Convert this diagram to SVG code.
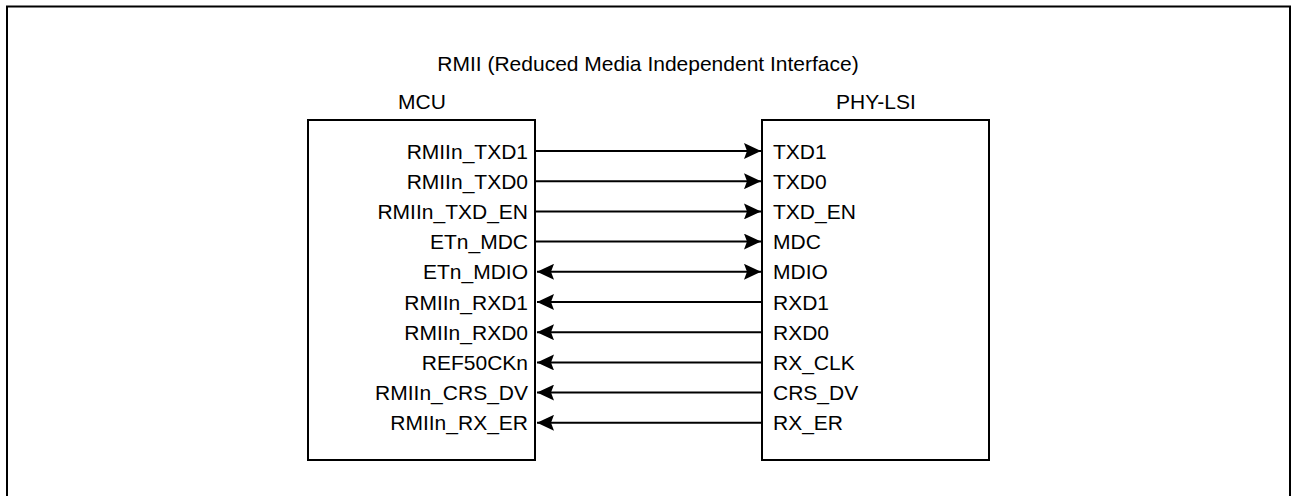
<svg xmlns="http://www.w3.org/2000/svg" width="1291" height="496" viewBox="0 0 1291 496">
<defs>
<style>
text{font-family:"Liberation Sans",Arial,sans-serif;font-size:21px;fill:#000}
.l{text-anchor:end}
.c{text-anchor:middle}
.box{fill:#fff;stroke:#000;stroke-width:2}
.w{stroke:#000;stroke-width:2;fill:none}
</style>
<marker id="ah" viewBox="0 0 17 16" refX="17" refY="8" markerWidth="17" markerHeight="16" markerUnits="userSpaceOnUse" orient="auto-start-reverse">
<path d="M0,0 L17,8 L0,16 L3,8 Z" fill="#000"/>
</marker>
</defs>
<rect width="1291" height="496" fill="#fff"/>
<rect x="7" y="6.5" width="1283" height="500" fill="none" stroke="#000" stroke-width="2"/>
<text class="c" x="648" y="71">RMII (Reduced Media Independent Interface)</text>
<g id="mcu">
<rect class="box" x="308" y="120" width="227" height="340"/>
<text class="c" x="422" y="109">MCU</text>
<text class="l" x="528" y="158.5">RMIIn_TXD1</text>
<text class="l" x="528" y="188.7">RMIIn_TXD0</text>
<text class="l" x="528" y="218.9">RMIIn_TXD_EN</text>
<text class="l" x="528" y="249.1">ETn_MDC</text>
<text class="l" x="528" y="279.3">ETn_MDIO</text>
<text class="l" x="528" y="309.5">RMIIn_RXD1</text>
<text class="l" x="528" y="339.7">RMIIn_RXD0</text>
<text class="l" x="528" y="369.9">REF50CKn</text>
<text class="l" x="528" y="400.1">RMIIn_CRS_DV</text>
<text class="l" x="528" y="430.3">RMIIn_RX_ER</text>
</g>
<g id="phy">
<rect class="box" x="762" y="120" width="227" height="340"/>
<text class="c" x="876" y="109">PHY-LSI</text>
<text x="773" y="158.5">TXD1</text>
<text x="773" y="188.7">TXD0</text>
<text x="773" y="218.9">TXD_EN</text>
<text x="773" y="249.1">MDC</text>
<text x="773" y="279.3">MDIO</text>
<text x="773" y="309.5">RXD1</text>
<text x="773" y="339.7">RXD0</text>
<text x="773" y="369.9">RX_CLK</text>
<text x="773" y="400.1">CRS_DV</text>
<text x="773" y="430.3">RX_ER</text>
</g>
<g id="connectors">
<line class="w" x1="536" y1="151" x2="761" y2="151" marker-end="url(#ah)"/>
<line class="w" x1="536" y1="181.2" x2="761" y2="181.2" marker-end="url(#ah)"/>
<line class="w" x1="536" y1="211.4" x2="761" y2="211.4" marker-end="url(#ah)"/>
<line class="w" x1="536" y1="241.6" x2="761" y2="241.6" marker-end="url(#ah)"/>
<line class="w" x1="537" y1="271.8" x2="761" y2="271.8" marker-start="url(#ah)" marker-end="url(#ah)"/>
<line class="w" x1="761" y1="302" x2="537" y2="302" marker-end="url(#ah)"/>
<line class="w" x1="761" y1="332.2" x2="537" y2="332.2" marker-end="url(#ah)"/>
<line class="w" x1="761" y1="362.4" x2="537" y2="362.4" marker-end="url(#ah)"/>
<line class="w" x1="761" y1="392.6" x2="537" y2="392.6" marker-end="url(#ah)"/>
<line class="w" x1="761" y1="422.8" x2="537" y2="422.8" marker-end="url(#ah)"/>
</g>
</svg>
